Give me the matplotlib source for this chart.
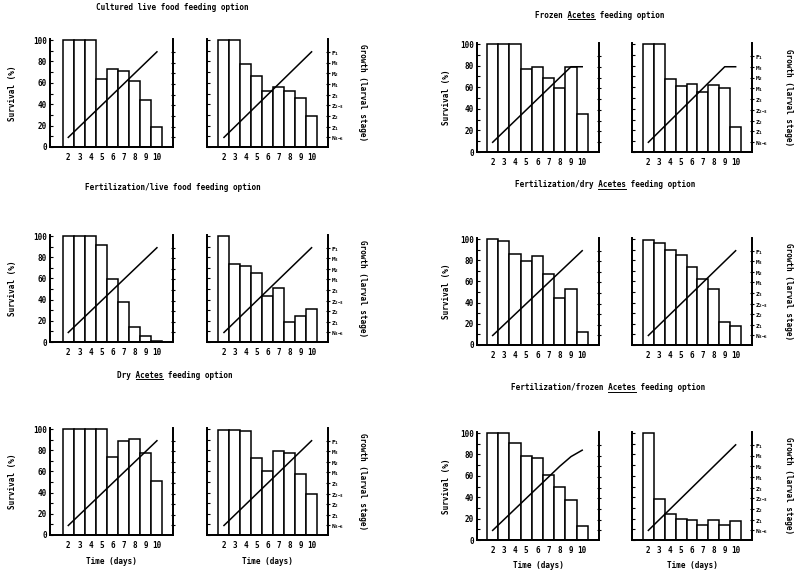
import matplotlib
matplotlib.use('Agg')
import matplotlib.pyplot as plt
from matplotlib.ticker import MultipleLocator, FixedLocator

# ---------------- data ----------------
days = [2, 3, 4, 5, 6, 7, 8, 9, 10]
day_labels = ['2', '3', '4', '5', '6', '7', '8', '9', '10']
survival_ticks = [0, 20, 40, 60, 80, 100]
stage_labels = [r'$\mathrm{N_{3{-}6}}$', r'$\mathrm{Z_1}$', r'$\mathrm{Z_2}$',
                r'$\mathrm{Z_{2{-}3}}$', r'$\mathrm{Z_3}$', r'$\mathrm{M_1}$',
                r'$\mathrm{M_2}$', r'$\mathrm{M_3}$', r'$\mathrm{F_1}$']

titles = ['Cultured live food feeding option',
          'Frozen Acetes feeding option',
          'Fertilization/live food feeding option',
          'Fertilization/dry Acetes feeding option',
          'Dry Acetes feeding option',
          'Fertilization/frozen Acetes feeding option']

cultured_live_a = [100, 100, 100, 64, 73, 71, 62, 44, 19]
cultured_live_b = [100, 100, 78, 66, 52, 56, 52, 46, 29]
cultured_live_growth_a = [0, 1, 2, 3, 4, 5, 6, 7, 8]
cultured_live_growth_b = [0, 1, 2, 3, 4, 5, 6, 7, 8]

frozen_a = [100, 100, 100, 77, 79, 69, 59, 79, 35]
frozen_b = [100, 100, 68, 61, 63, 56, 62, 59, 23]
frozen_growth_a = [0, 1, 2, 3, 4, 5, 6, 7, 7]
frozen_growth_b = [0, 1, 2, 3, 4, 5, 6, 7, 7]

fert_live_a = [100, 100, 100, 92, 59, 38, 14, 6, 1]
fert_live_b = [100, 74, 72, 65, 43, 51, 19, 25, 31]
fert_live_growth_a = [0, 1, 2, 3, 4, 5, 6, 7, 8]
fert_live_growth_b = [0, 1, 2, 3, 4, 5, 6, 7, 8]

fert_dry_a = [100, 98, 86, 79, 84, 67, 44, 53, 12]
fert_dry_b = [99, 96, 90, 85, 74, 62, 53, 22, 18]
fert_dry_growth_a = [0, 1, 2, 3, 4, 5, 6, 7, 8]
fert_dry_growth_b = [0, 1, 2, 3, 4, 5, 6, 7, 8]

dry_a = [100, 100, 100, 100, 74, 89, 91, 77, 51]
dry_b = [99, 99, 98, 73, 60, 79, 77, 58, 39]
dry_growth_a = [0, 1, 2, 3, 4, 5, 6, 7, 8]
dry_growth_b = [0, 1, 2, 3, 4, 5, 6, 7, 8]

fert_frozen_a = [100, 100, 91, 79, 77, 61, 50, 37, 13]
fert_frozen_b = [100, 38, 24, 20, 19, 14, 19, 14, 18]
fert_frozen_growth_a = [0, 1, 2, 3, 4, 5, 6, 6.9, 7.5]
fert_frozen_growth_b = [0, 1, 2, 3, 4, 5, 6, 7, 8]

groups = [
    (cultured_live_a, cultured_live_growth_a, cultured_live_b, cultured_live_growth_b),
    (frozen_a, frozen_growth_a, frozen_b, frozen_growth_b),
    (fert_live_a, fert_live_growth_a, fert_live_b, fert_live_growth_b),
    (fert_dry_a, fert_dry_growth_a, fert_dry_b, fert_dry_growth_b),
    (dry_a, dry_growth_a, dry_b, dry_growth_b),
    (fert_frozen_a, fert_frozen_growth_a, fert_frozen_b, fert_frozen_growth_b),
]

# ---------------- style ----------------
FONT = 'DejaVu Sans Mono'
plt.rcParams['font.family'] = [FONT]
plt.rcParams['font.weight'] = 'bold'
plt.rcParams['mathtext.fontset'] = 'custom'
plt.rcParams['mathtext.rm'] = FONT + ':bold'
plt.rcParams['mathtext.it'] = FONT + ':bold'
plt.rcParams['mathtext.bf'] = FONT + ':bold'
FS = 5.5
FS_STAGE = 4.4

W, H = 800, 575
fig = plt.figure(figsize=(8, 5.75), dpi=100)

# layout in pixels: (x0, x1) per panel, (y0, y1) per row, per column
col_x = [((50, 173), (207, 328)), ((477, 599), (632, 752))]
row_y = [[(39, 147), (235, 342), (428, 535)],
         [(43, 152), (238, 345), (432, 540)]]
xlims = [[(0.35, 11.45), (0.45, 11.5)], [(0.6, 11.5), (0.5, 11.5)]]
title_pos = [(172, 8), (600, 15), (173, 187), (605, 185), (175, 375), (608, 388)]
surv_x = [13, 447]
growth_x = [362, 788]

YMAX = 101


def make_panel(rect, xlim, surv, growth, left_labels, right_labels):
    x0, x1, y0, y1 = rect
    ax = fig.add_axes([x0 / W, 1 - y1 / H, (x1 - x0) / W, (y1 - y0) / H])
    ax.bar(days, surv, width=1.0, color='white', edgecolor='black', linewidth=1.1,
           zorder=2)
    ax.set_xlim(*xlim)
    ax.set_ylim(0, YMAX)
    for s in ['left', 'right', 'bottom']:
        ax.spines[s].set_linewidth(1.3)
    ax.spines['top'].set_visible(False)
    ax.set_xticks(days)
    ax.set_xticklabels(day_labels, fontsize=FS, fontweight='bold')
    ax.tick_params(axis='x', length=0, pad=4)
    ax.yaxis.set_major_locator(FixedLocator(survival_ticks))
    ax.yaxis.set_minor_locator(MultipleLocator(10))
    ax.tick_params(axis='y', which='both', direction='in', length=2, width=0.8,
                   labelsize=FS, pad=2)
    if not left_labels:
        ax.tick_params(axis='y', labelleft=False)
    else:
        for t in ax.get_yticklabels():
            t.set_fontweight('bold')
    tw = ax.twinx()
    tw.set_ylim((0 - 9) / 10, (YMAX - 9) / 10)
    tw.plot(days, growth, color='black', linewidth=1.1, zorder=3)
    tw.spines['top'].set_visible(False)
    for s in ['left', 'right', 'bottom']:
        tw.spines[s].set_linewidth(1.3)
    tw.set_yticks(range(len(stage_labels)))
    tw.tick_params(axis='y', direction='inout', length=3, width=0.8, pad=1,
                   labelsize=FS_STAGE)
    if right_labels:
        tw.set_yticklabels(stage_labels)
    else:
        tw.set_yticklabels([])
    return ax


for gi, (sa, ga, sb, gb) in enumerate(groups):
    col = gi % 2
    row = gi // 2
    (ax0, ax1), (bx0, bx1) = col_x[col]
    y0, y1 = row_y[col][row]
    bottom = (row == 2)
    make_panel((ax0, ax1, y0, y1), xlims[col][0], sa, ga, True, False)
    make_panel((bx0, bx1, y0, y1), xlims[col][1], sb, gb, False, True)
    yc = 1 - (y0 + y1) / 2 / H
    fig.text(surv_x[col] / W, yc, 'Survival (%)', rotation=90, ha='center',
             va='center', fontsize=FS, fontweight='bold')
    fig.text(growth_x[col] / W, yc, 'Growth (larval stage)', rotation=-90,
             ha='center', va='center', fontsize=FS, fontweight='bold')
    if bottom:
        for (p0, p1) in ((ax0, ax1), (bx0, bx1)):
            fig.text((p0 + p1) / 2 / W, 1 - (y1 + 26) / H, 'Time (days)',
                     ha='center', va='center', fontsize=FS, fontweight='bold')

# titles with underlined "Acetes"
title_objs = []
for t, (tx, ty) in zip(titles, title_pos):
    obj = fig.text(tx / W, 1 - ty / H, t, ha='center', va='center',
                   fontsize=FS, fontweight='bold')
    title_objs.append((obj, t))

fig.canvas.draw()
renderer = fig.canvas.get_renderer()
for obj, t in title_objs:
    idx = t.find('Acetes')
    if idx < 0:
        continue
    bb = obj.get_window_extent(renderer)
    cw = bb.width / len(t)
    ux0 = bb.x0 + cw * idx
    ux1 = ux0 + cw * len('Acetes')
    uy = bb.y0 + 0.5
    fig.add_artist(plt.Line2D([ux0 / W, ux1 / W], [uy / H, uy / H],
                              transform=fig.transFigure, color='black',
                              linewidth=0.7))

fig.savefig('out.png', dpi=100, facecolor='white')
